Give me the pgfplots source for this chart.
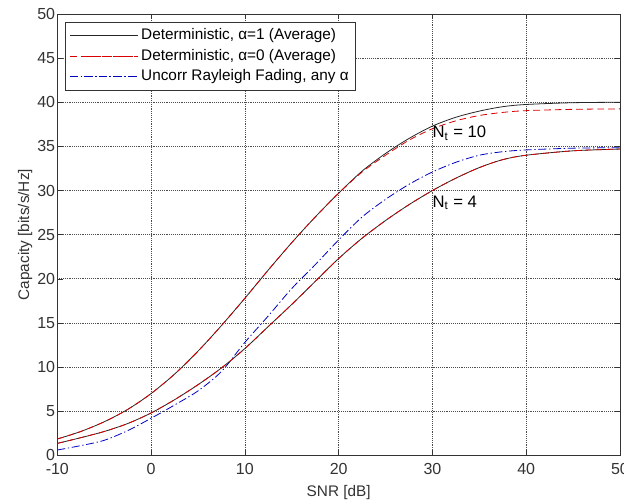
\documentclass[border=0pt]{standalone}
\usepackage{fontspec}
\setmainfont{Liberation Sans}
\usepackage{pgfplots}
\pgfplotsset{compat=1.18}
\begin{document}
\fontsize{12}{14}\selectfont
\begin{tikzpicture}
\begin{axis}[
  name=ax,
  scale only axis,
  width=422pt, height=331pt,
  xmin=-10, xmax=50, ymin=0, ymax=50,
  xtick={-10,0,...,50}, ytick={0,5,...,50},
  grid=major,
  major grid style={densely dotted, black!70, line width=0.5pt},
  tick align=inside,
  tick pos=both,
  major tick length=4pt,
  axis line style={black!80, line width=0.6pt},
  every tick/.style={black!80},
  /pgf/number format/assume math mode=true,
  tick label style={font=\fontsize{12}{14}\selectfont, text=black!80},
  yticklabel style={inner xsep=1.5pt},
  xticklabel style={inner ysep=5.5pt},
  xlabel={SNR [dB]},
  ylabel={Capacity [bits/s/Hz]},
  label style={font=\fontsize{11.5}{13}\selectfont, text=black!80},
  xlabel style={yshift=1pt},
  ylabel style={yshift=-2pt},
  legend cell align=left,
  legend style={at={(0.014,0.982)}, anchor=north west, draw=black!80,
     font=\fontsize{11.5}{14}\selectfont, row sep=1.2pt, inner sep=3pt},
  legend image code/.code={\path (0cm,0cm) -- (1.8cm,0cm);\draw[#1] (0.37cm,0cm) -- (1.8cm,0cm);},
]
% Nt = 10, deterministic alpha=1
\addplot[black!85, line width=0.6pt, smooth] coordinates {
(-10,1.85) (-7.5,2.7) (-5,3.8) (-2.5,5.2) (0,7.0) (2.5,9.2) (5,11.8) (7.5,14.7)
(10,17.8) (12.5,21.0) (15,24.1) (17.5,27.0) (20,29.7) (22.5,32.2) (25,34.2)
(27.5,35.9) (30,37.3) (32.5,38.3) (35,39.0) (37.5,39.5) (40,39.75) (45,39.95) (50,40.0)};
\addlegendentry{Deterministic, α=1 (Average)}
% Nt = 10, deterministic alpha=0
\addplot[red!85!black, dash pattern=on 5pt off 3pt, line width=0.6pt, smooth] coordinates {
(-10,1.85) (-7.5,2.7) (-5,3.8) (-2.5,5.2) (0,7.0) (2.5,9.2) (5,11.8) (7.5,14.7)
(10,17.8) (12.5,21.0) (15,24.1) (17.5,27.0) (20,29.7) (22.5,32.1) (25,34.0)
(27.5,35.7) (30,37.0) (32.5,37.9) (35,38.5) (37.5,38.85) (40,39.05) (45,39.2) (50,39.25)};
\addlegendentry{Deterministic, α=0 (Average)}
% Nt = 4, Rayleigh
\addplot[blue!75!black, dash pattern=on 6pt off 2pt on 1pt off 2pt, line width=0.6pt, smooth] coordinates {
(-10,0.6) (-7.5,1.1) (-5,1.7) (-2.5,2.8) (0,4.2) (2.5,5.7) (5,7.3) (7.5,9.5)
(10,12.8) (12.5,15.8) (15,18.9) (17.5,21.6) (20,24.4) (22.5,27.0) (25,29.0)
(27.5,30.7) (30,32.1) (32.5,33.2) (35,34.0) (37.5,34.4) (40,34.6) (45,34.8) (50,34.85)};
\addlegendentry{Uncorr Rayleigh Fading, any α}
% Nt = 4, deterministic alpha=1
\addplot[black!85, line width=0.6pt, smooth, forget plot] coordinates {
(-10,1.35) (-7.5,2.0) (-5,2.7) (-2.5,3.6) (0,4.8) (2.5,6.3) (5,8.0) (7.5,9.9)
(10,12.1) (12.5,14.6) (15,17.1) (17.5,19.7) (20,22.3) (22.5,24.6) (25,26.6)
(27.5,28.4) (30,30.0) (32.5,31.4) (35,32.6) (37.5,33.5) (40,34.0) (45,34.5) (50,34.7)};
% Nt = 4, deterministic alpha=0
\addplot[red!85!black, dash pattern=on 5pt off 3pt, line width=0.6pt, smooth, forget plot] coordinates {
(-10,1.35) (-7.5,2.0) (-5,2.7) (-2.5,3.6) (0,4.8) (2.5,6.3) (5,8.0) (7.5,9.9)
(10,12.1) (12.5,14.6) (15,17.1) (17.5,19.7) (20,22.3) (22.5,24.6) (25,26.6)
(27.5,28.4) (30,30.0) (32.5,31.4) (35,32.6) (37.5,33.5) (40,34.0) (45,34.5) (50,34.7)};
\node[anchor=west, font=\fontsize{12.5}{14}\selectfont, inner sep=0pt] at (axis cs:30,36.5) {N$_{\mathrm{t}}$ = 10};
\node[anchor=west, font=\fontsize{12.5}{14}\selectfont, inner sep=0pt] at (axis cs:30,28.6) {N$_{\mathrm{t}}$ = 4};
\end{axis}
\pgfresetboundingbox
\path[use as bounding box] ([xshift=-43pt,yshift=-34.5pt]ax.south west) rectangle ([xshift=3pt,yshift=10.5pt]ax.north east);
\end{tikzpicture}
\end{document}
